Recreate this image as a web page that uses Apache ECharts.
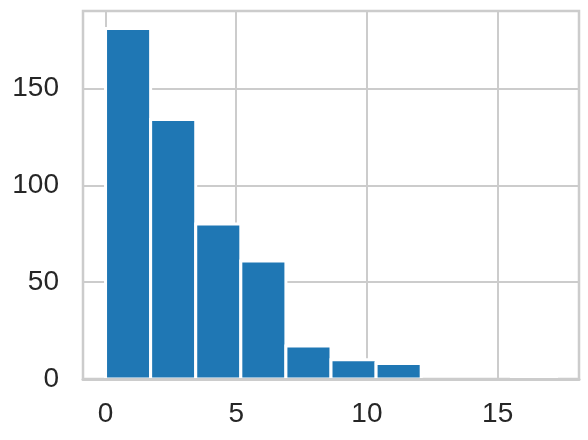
<!DOCTYPE html>
<html>
<head>
<meta charset="utf-8">
<script src="https://cdn.jsdelivr.net/npm/echarts@6/dist/echarts.min.js"></script>
<style>
  html, body { margin: 0; padding: 0; background: #fff; }
  #chart { width: 588px; height: 440px; }
</style>
</head>
<body>
<div id="chart"></div>
<script>
// histogram bins
const binEdges = [0, 1.725, 3.45, 5.175, 6.9, 8.625, 10.35, 12.075, 13.8, 15.525, 17.25]
const counts = [181, 134, 80, 61, 17, 10, 8, 0, 0, 1]
const yTicks = [0, 50, 100, 150]

const chart = echarts.init(document.getElementById('chart'))

const bins = counts.map((c, i) => [binEdges[i], binEdges[i + 1], c])

const labelStyle = {
  color: '#262626',
  fontSize: 28,
  fontFamily: 'Liberation Sans, Arial, sans-serif'
}

const option = {
  animation: false,
  grid: {
    left: 83,
    right: 9,
    top: 11,
    bottom: 61,
    show: true,
    borderColor: '#cccccc',
    borderWidth: 2.5,
    backgroundColor: '#fff'
  },
  xAxis: [
    {
      type: 'value',
      min: -0.8625,
      max: 18.1125,
      splitNumber: 4,
      axisLine: { show: false },
      axisTick: { show: false },
      splitLine: { show: true, lineStyle: { color: '#cccccc', width: 2 } },
      axisLabel: {
        ...labelStyle,
        margin: 21,
        showMinLabel: false,
        showMaxLabel: false,
        formatter: v => (v % 5 === 0 ? String(v) : '')
      }
    },
    {
      // bottom spine drawn above the bars
      type: 'value',
      position: 'bottom',
      min: -0.8625,
      max: 18.1125,
      z: 10,
      axisLine: { show: true, onZero: false, lineStyle: { color: '#cccccc', width: 3 } },
      axisTick: { show: false },
      axisLabel: { show: false },
      splitLine: { show: false }
    }
  ],
  yAxis: {
    type: 'value',
    min: 0,
    max: 190.05,
    interval: 50,
    axisLine: { show: false },
    axisTick: { show: false },
    splitLine: { show: true, lineStyle: { color: '#cccccc', width: 2 } },
    axisLabel: {
      ...labelStyle,
      margin: 24,
      showMaxLabel: false,
      formatter: v => (yTicks.includes(v) ? String(v) : '')
    }
  },
  series: [
    {
      type: 'custom',
      xAxisIndex: 0,
      renderItem: (params, api) => {
        const p0 = api.coord([api.value(0), api.value(2)])
        const p1 = api.coord([api.value(1), 0])
        if (api.value(2) <= 0) return null
        return {
          type: 'rect',
          shape: { x: p0[0], y: p0[1], width: p1[0] - p0[0], height: p1[1] - p0[1] },
          style: { fill: '#1f77b4', stroke: '#ffffff', lineWidth: 3 }
        }
      },
      encode: { x: [0, 1], y: 2 },
      data: bins
    }
  ]
}

chart.setOption(option)
</script>
</body>
</html>
